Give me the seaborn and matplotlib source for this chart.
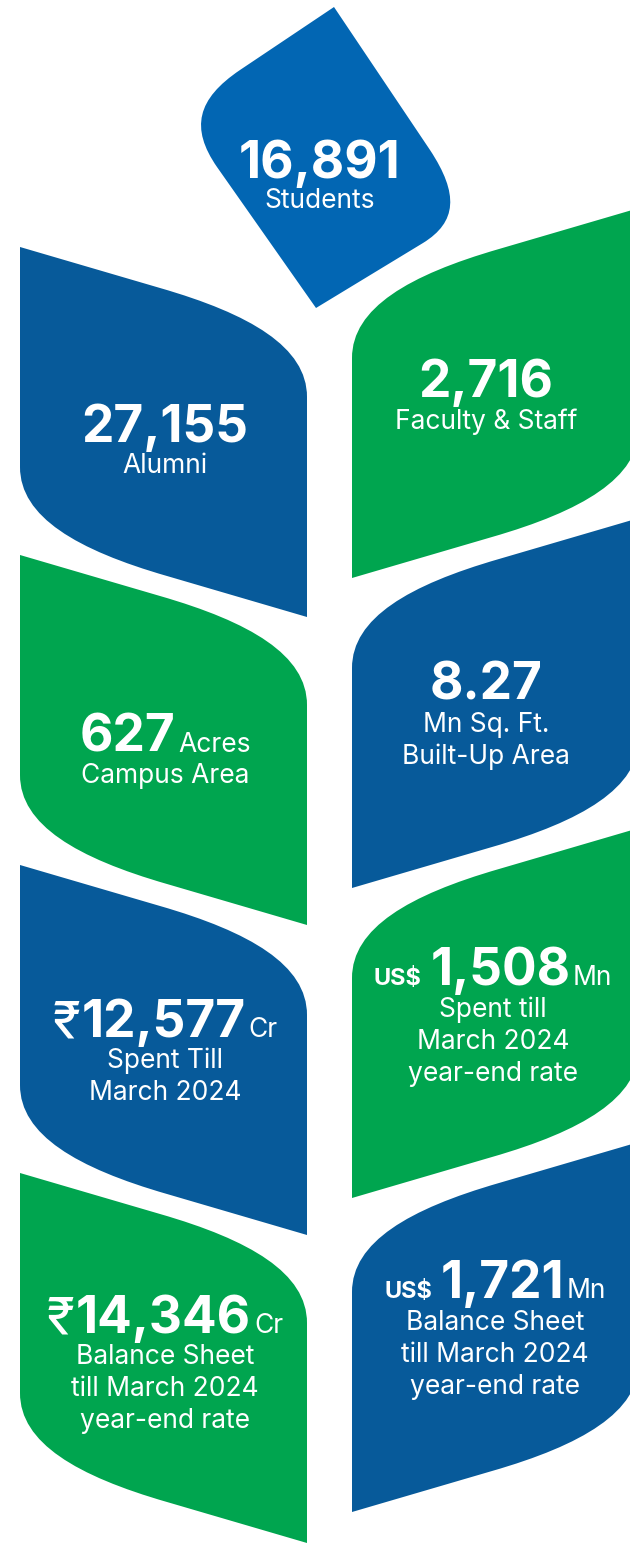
"""
Campus key figures infographic - leaf stem layout
"""
import matplotlib.pyplot as plt
from matplotlib.path import Path
from matplotlib.patches import PathPatch
import seaborn as sns

sns.set_style("white")
plt.rcParams["font.family"] = ["Inter", "DejaVu Sans"]

BLUE = "#075a9a"
TOP_BLUE = "#0266b3"
GREEN = "#00a54f"

# top leaf
top_value = "16,891"
top_label = "Students"

# left column leaves (top to bottom)
left_prefix = ["", "", "₹", "₹"]
left_values = ["27,155", "627", "12,577", "14,346"]
left_units = ["", "Acres", "Cr", "Cr"]
left_labels = [["Alumni"],
               ["Campus Area"],
               ["Spent Till", "March 2024"],
               ["Balance Sheet", "till March 2024", "year-end rate"]]
left_colors = [BLUE, GREEN, BLUE, GREEN]
left_tops = [247, 555, 865, 1173]

# right column leaves (top to bottom)
right_prefix = ["", "", "US$", "US$"]
right_values = ["2,716", "8.27", "1,508", "1,721"]
right_units = ["", "", "Mn", "Mn"]
right_labels = [["Faculty & Staff"],
                ["Mn Sq. Ft.", "Built-Up Area"],
                ["Spent till", "March 2024", "year-end rate"],
                ["Balance Sheet", "till March 2024", "year-end rate"]]
right_colors = [GREEN, BLUE, GREEN, BLUE]
right_tops = [208, 518, 828, 1142]

W, H = 630, 1551
fig = plt.figure(figsize=(W / 100, H / 100), dpi=100)
ax = fig.add_axes([0, 0, 1, 1])
ax.set_xlim(0, W)
ax.set_ylim(H, 0)
ax.axis("off")

M, L, C, Z = Path.MOVETO, Path.LINETO, Path.CURVE4, Path.CLOSEPOLY

# one leaf shape, sharp corners top-left and bottom-right, in local coords
LEAF = [(20, 0), (160, 41), (250, 67), (307, 100), (307, 150), (307, 370),
        (167, 329), (77, 303), (20, 270), (20, 220), (20, 0)]
LEAF_CODES = [M, L, C, C, C, L, L, C, C, C, Z]


def add_leaf(y0, color, mirror=False):
    pts = [((659 - x) if mirror else x, y + y0) for x, y in LEAF]
    ax.add_patch(PathPatch(Path(pts, LEAF_CODES), facecolor=color, edgecolor="none"))


# top diamond shaped leaf
diamond = [(334, 7), (240, 70), (197, 99), (190, 128), (217, 167), (316, 308),
           (423, 243), (457, 222), (459, 194), (430, 150), (334, 7)]
ax.add_patch(PathPatch(Path(diamond, [M, L, C, C, C, L, L, C, C, C, Z]),
                       facecolor=TOP_BLUE, edgecolor="none"))

for y0, col in zip(left_tops, left_colors):
    add_leaf(y0, col)
for y0, col in zip(right_tops, right_colors):
    add_leaf(y0, col, mirror=True)

renderer = fig.canvas.get_renderer()


def rich_line(xc, y, parts):
    # parts: (text, size, weight, gap before); centred as a group on xc
    items = []
    total = 0
    for s, size, weight, gap in parts:
        if not s:
            continue
        t = ax.text(0, y, s, fontsize=size, fontweight=weight, color="white",
                    ha="left", va="baseline")
        w = t.get_window_extent(renderer=renderer).width
        items.append((t, w, gap if items else 0))
        total += w + (gap if len(items) > 1 else 0)
    x = xc - total / 2
    for t, w, gap in items:
        x += gap
        t.set_x(x)
        x += w


BIG = 37
SUB = 19
UNIT = 19

# top leaf text
rich_line(320, 178, [(top_value, BIG, "bold", 0)])
rich_line(320, 208, [(top_label, SUB, "normal", 0)])

left_base = [442, 752, 1037, 1333]
for pre, val, unit, labels, base in zip(left_prefix, left_values, left_units,
                                        left_labels, left_base):
    rich_line(165, base, [(pre, BIG, "normal", 0), (val, BIG, "bold", 1),
                          (unit, UNIT, "normal", 3)])
    for i, lab in enumerate(labels):
        rich_line(165, base + 31 + i * 32, [(lab, SUB, "normal", 0)])

right_base = [397, 700, 985, 1298]
right_x = [486, 486, 493, 495]
for pre, val, unit, labels, base, xc in zip(right_prefix, right_values, right_units,
                                            right_labels, right_base, right_x):
    rich_line(xc, base, [(pre, 17, "bold", 0), (val, BIG, "bold", 9), (unit, UNIT, "normal", 2)])
    for i, lab in enumerate(labels):
        rich_line(xc, base + 32 + i * 32, [(lab, SUB, "normal", 0)])

plt.savefig("out.png", dpi=100)
